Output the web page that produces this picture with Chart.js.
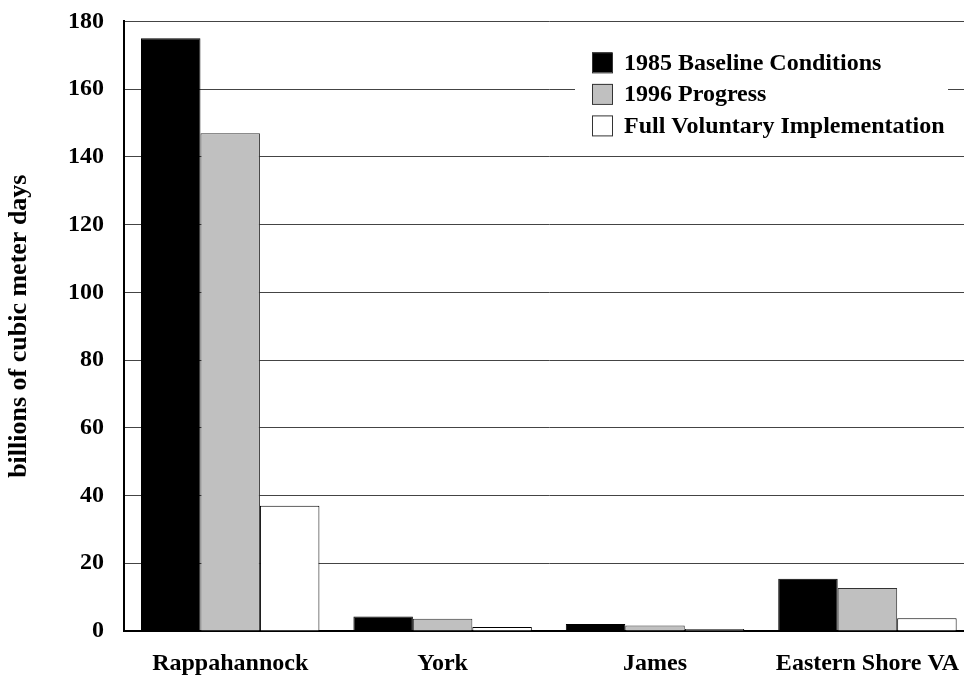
<!DOCTYPE html>
<html>
<head>
<meta charset="utf-8">
<script src="https://cdn.jsdelivr.net/npm/chart.js@4"></script>
<style>
  html, body { margin: 0; padding: 0; background: #fff; }
  #wrap { width: 964px; height: 677px; overflow: hidden; }
  #myChart { display: block; margin-top: -13px; }
</style>
</head>
<body>
<div id="wrap"><canvas id="myChart" width="977" height="690"></canvas></div>
<script>
const CATEGORIES = ["Rappahannock", "York", "James", "Eastern Shore VA"];
const BASELINE_1985 = [175, 4.3, 2.1, 15.4];
const PROGRESS_1996 = [147, 3.6, 1.6, 12.7];
const FULL_VOLUNTARY = [37, 1.2, 0.6, 3.8];
const Y_TICKS = [0, 20, 40, 60, 80, 100, 120, 140, 160, 180];

const FONT = "'Liberation Serif', 'Times New Roman', serif";

// legend drawn inside the plot, top right, on a white patch
const insideLegend = {
    id: "insideLegend",
    afterDraw(chart) {
        const ctx = chart.ctx;
        const area = chart.chartArea;
        const x0 = area.left + 467;
        const y0 = area.top + 31;
        ctx.save();
        ctx.fillStyle = "#fff";
        ctx.fillRect(x0 - 16, y0 - 8, 373, 98);
        ctx.font = "bold 24px " + FONT;
        ctx.textBaseline = "middle";
        chart.data.datasets.forEach(function (ds, i) {
            const y = y0 + i * 31.5;
            ctx.fillStyle = ds.backgroundColor;
            ctx.fillRect(x0 + 1, y, 20, 20);
            ctx.strokeStyle = "#333";
            ctx.lineWidth = 1;
            ctx.strokeRect(x0 + 1.5, y + 0.5, 20, 20);
            ctx.fillStyle = "#000";
            ctx.fillText(ds.label, x0 + 33, y + 11);
        });
        ctx.restore();
    },
};

const data1 = {
    labels: CATEGORIES,
    datasets: [
        {
            label: "1985 Baseline Conditions",
            data: BASELINE_1985,
            backgroundColor: "#000000",
            borderColor: "#000000",
            borderWidth: 1,
        },
        {
            label: "1996 Progress",
            data: PROGRESS_1996,
            backgroundColor: "#c0c0c0",
            borderColor: "#333333",
            borderWidth: 1,
        },
        {
            label: "Full Voluntary Implementation",
            data: FULL_VOLUNTARY,
            backgroundColor: "#ffffff",
            borderColor: "#000000",
            borderWidth: 1,
        },
    ],
};

const config1 = {
    type: "bar",
    data: data1,
    plugins: [insideLegend],
    options: {
        responsive: false,
        animation: false,
        layout: { padding: { top: 8, right: 0, bottom: 0, left: 0 } },
        datasets: {
            bar: { categoryPercentage: 0.84, barPercentage: 1.0, borderSkipped: "bottom" },
        },
        plugins: {
            legend: { display: false },
            tooltip: { enabled: false },
        },
        scales: {
            x: {
                grid: { display: false, drawTicks: false },
                border: { display: true, color: "#000", width: 2 },
                ticks: {
                    autoSkip: false,
                    maxRotation: 0,
                    padding: 18,
                    color: "#000",
                    font: { family: FONT, size: 24, weight: "bold" },
                },
                afterFit(scale) { scale.height = 46; },
            },
            y: {
                min: 0,
                max: 180,
                afterBuildTicks(scale) {
                    scale.ticks = Y_TICKS.map(function (v) { return { value: v }; });
                },
                grid: { color: "#444", lineWidth: 1, drawTicks: false },
                border: { display: true, color: "#000", width: 2 },
                ticks: {
                    padding: 20,
                    color: "#000",
                    font: { family: FONT, size: 24, weight: "bold" },
                },
                title: {
                    display: true,
                    text: "billions of cubic meter days",
                    color: "#000",
                    padding: { top: 4, bottom: 0 },
                    font: { family: FONT, size: 26, weight: "bold" },
                },
                afterFit(scale) { scale.width = 124; },
            },
        },
    },
};

var ctx = document.getElementById("myChart").getContext("2d");
var myChart = new Chart(ctx, config1);
</script>
</body>
</html>
